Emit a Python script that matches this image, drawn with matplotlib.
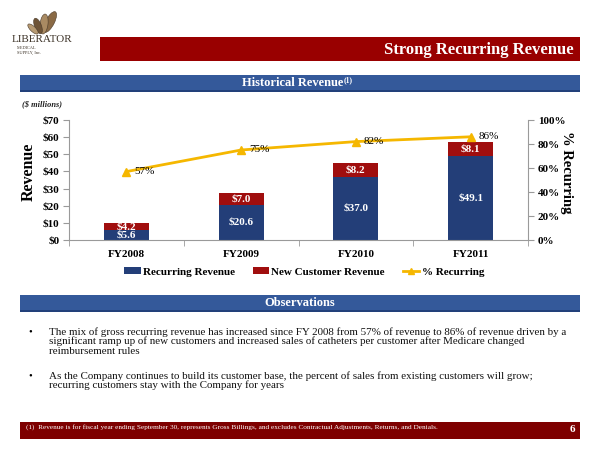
import matplotlib
matplotlib.use("Agg")
import matplotlib.pyplot as plt
from matplotlib.patches import Rectangle, Patch, Ellipse
from matplotlib.lines import Line2D

# ---- data ----
years = ["FY2008", "FY2009", "FY2010", "FY2011"]
recurring = [5.6, 20.6, 37.0, 49.1]
new_customer = [4.2, 7.0, 8.2, 8.1]
pct_recurring = [57, 75, 82, 86]
left_ticks = [0, 10, 20, 30, 40, 50, 60, 70]
right_ticks = [0, 20, 40, 60, 80, 100]

title = "Strong Recurring Revenue"
section1 = "Historical Revenue"
section2 = "Observations"
bullets = [
    ["The mix of gross recurring revenue has increased since FY 2008 from 57% of revenue to 86% of revenue driven by a",
     "significant ramp up of new customers and increased sales of catheters per customer after Medicare changed",
     "reimbursement rules"],
    ["As the Company continues to build its customer base, the percent of sales from existing customers will grow;",
     "recurring customers stay with the Company for years"],
]
footnote = ("(1)  Revenue is for fiscal year ending September 30, represents Gross Billings, "
            "and excludes Contractual Adjustments, Returns, and Denials.")

BLUE = "#233E78"
RED = "#A00E0E"
GOLD = "#F5B700"
BANNER_RED = "#990000"
FOOT_RED = "#7E0000"
HEAD_BLUE = "#34599A"
SERIF = "Liberation Serif"

plt.rcParams["font.family"] = [SERIF, "DejaVu Serif"]

W, H = 600, 450
fig = plt.figure(figsize=(6, 4.5), dpi=100)
fig.patch.set_facecolor("white")

def fx(x):
    return x / W

def fy(y):
    return 1 - y / H

def rect(x0, y0, x1, y1, color, z=0):
    fig.patches.append(Rectangle((fx(x0), fy(y1)), fx(x1) - fx(x0), fy(y0) - fy(y1),
                                 transform=fig.transFigure, facecolor=color,
                                 edgecolor="none", zorder=z))

# ---- logo (simple wing shape + text) ----
for (cx, cy, w, h, ang, col) in [(50, 22, 9, 22, -20, "#8a6a45"), (44, 24, 8, 20, -5, "#a98a62"),
                                 (38, 26, 7, 16, 15, "#6e5336"), (33, 29, 6, 12, 35, "#b79a72")]:
    fig.patches.append(Ellipse((fx(cx), fy(cy)), fx(w), h / H, angle=ang,
                               transform=fig.transFigure, facecolor=col,
                               edgecolor="#4a3a2a", linewidth=0.4))
fig.text(fx(42), fy(40), "LIBERATOR", ha="center", va="center", fontsize=8,
         color="#3d3328", family=SERIF)
fig.text(fx(17), fy(48), "MEDICAL", ha="left", va="center", fontsize=3.2, color="#3d3328")
fig.text(fx(17), fy(53), "SUPPLY, Inc.", ha="left", va="center", fontsize=3.2, color="#3d3328")

# ---- title banner ----
rect(100, 37, 580, 61, BANNER_RED)
fig.text(fx(574), fy(49.5), title, ha="right", va="center", fontsize=12,
         fontweight="bold", color="white")

# ---- section header 1 ----
rect(20, 75, 580, 91, HEAD_BLUE)
rect(20, 89.5, 580, 92, "#22407a")
fig.text(fx(343), fy(83), section1, ha="right", va="center", fontsize=9,
         fontweight="bold", color="white")
fig.text(fx(344), fy(80), "(1)", ha="left", va="center", fontsize=5.5,
         fontweight="bold", color="white")

fig.text(fx(22), fy(104.5), "($ millions)", ha="left", va="center", fontsize=6,
         fontstyle="italic", fontweight="bold", color="#222222")

# ---- chart ----
ax = fig.add_axes([fx(69), fy(240), fx(528) - fx(69), fy(120) - fy(240)])
ax2 = ax.twinx()
x = list(range(len(years)))
bw = 0.39
ax.bar(x, recurring, bw, color=BLUE, zorder=2, label="Recurring Revenue")
ax.bar(x, new_customer, bw, bottom=recurring, color=RED, zorder=2,
       label="New Customer Revenue")
for i in x:
    ax.text(i, recurring[i] / 2, f"${recurring[i]:.1f}", ha="center", va="center",
            color="white", fontsize=8, fontweight="bold", zorder=3)
    ax.text(i, recurring[i] + new_customer[i] / 2, f"${new_customer[i]:.1f}",
            ha="center", va="center", color="white", fontsize=8, fontweight="bold", zorder=3)

ax.set_xlim(-0.5, len(years) - 0.5)
ax.set_ylim(0, 70)
ax.set_yticks(left_ticks)
ax.set_yticklabels([f"${t}" for t in left_ticks], fontsize=8, fontweight="bold")
ax.set_xticks(x)
ax.set_xticklabels(years, fontsize=8, fontweight="bold")
ax.set_xticks([i - 0.5 for i in range(len(years) + 1)], minor=True)
ax.tick_params(axis="x", which="major", length=0, pad=7)
ax.tick_params(axis="x", which="minor", length=4, color="#9a9a9a", direction="out")
ax.tick_params(axis="y", length=4, color="#9a9a9a", pad=3)
for s in ["top", "right"]:
    ax.spines[s].set_visible(False)
for s in ["left", "bottom"]:
    ax.spines[s].set_color("#9a9a9a")
    ax.spines[s].set_linewidth(0.8)

ax2.plot(x, pct_recurring, color=GOLD, lw=2, marker="^", ms=6, zorder=4,
         label="% Recurring")
for i in x:
    ax2.text(i + 0.07, pct_recurring[i], f"{pct_recurring[i]}%", ha="left", va="center",
             fontsize=8, color="black", zorder=5)
ax2.set_ylim(0, 100)
ax2.set_yticks(right_ticks)
ax2.set_yticklabels([f"{t}%" for t in right_ticks], fontsize=8, fontweight="bold")
ax2.tick_params(axis="y", length=4, color="#9a9a9a", pad=3)
for s in ["top", "left", "bottom"]:
    ax2.spines[s].set_visible(False)
ax2.spines["right"].set_color("#9a9a9a")
ax2.spines["right"].set_linewidth(0.8)

fig.text(fx(29), fy(172), "Revenue", rotation=90, ha="center", va="center",
         fontsize=11.5, fontweight="bold")
fig.text(fx(567), fy(172), "% Recurring", rotation=270, ha="center", va="center",
         fontsize=10.5, fontweight="bold")

handles = [Patch(facecolor=BLUE), Patch(facecolor=RED),
           Line2D([0], [0], color=GOLD, lw=2, marker="^", ms=5)]
fig.legend(handles, ["Recurring Revenue", "New Customer Revenue", "% Recurring"],
           loc="center", bbox_to_anchor=(fx(304), fy(272)), ncol=3, frameon=False,
           prop={"family": SERIF, "weight": "bold", "size": 8},
           handlelength=1.5, handleheight=0.55, handletextpad=0.2, columnspacing=1.6)

# ---- section header 2 ----
rect(20, 295, 580, 311, HEAD_BLUE)
rect(20, 309.5, 580, 312, "#22407a")
fig.text(fx(300), fy(303), section2, ha="center", va="center", fontsize=9,
         fontweight="bold", color="white")

# ---- bullets ----
starts = [332, 376]
for b, y0 in zip(bullets, starts):
    fig.text(fx(30), fy(y0), "\u2022", ha="center", va="center", fontsize=7.5)
    for j, line in enumerate(b):
        fig.text(fx(49), fy(y0 + j * 9.6), line, ha="left", va="center", fontsize=7.9,
                 color="#111111")

# ---- footer ----
rect(20, 422, 580, 439, FOOT_RED)
fig.text(fx(26), fy(427.5), footnote, ha="left", va="center", fontsize=5.2, color="white")
fig.text(fx(572), fy(429.5), "6", ha="center", va="center", fontsize=8,
         fontweight="bold", color="white")

fig.savefig("out.png", dpi=100)
